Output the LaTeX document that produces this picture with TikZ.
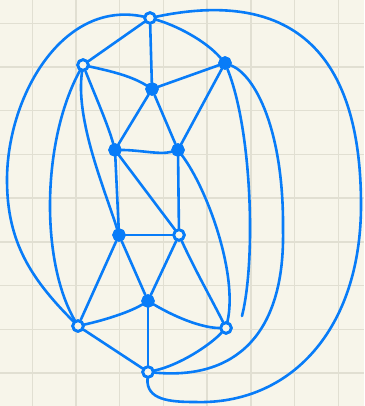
\documentclass[tikz,border=0pt]{standalone}
\begin{document}
\begin{tikzpicture}[x=1pt,y=-1pt,
  edge/.style={draw=inkblue,line width=2.6pt,line cap=round,line join=round},
  vhollow/.style={circle,draw=inkblue,line width=2.8pt,inner sep=0pt,minimum size=10.5pt,fill=paper},
  vfull/.style={circle,draw=inkblue,line width=2.8pt,inner sep=0pt,minimum size=10.5pt,fill=inkblue},
  gridline/.style={draw=gridgray,line width=1.4pt}]
\definecolor{inkblue}{RGB}{8,124,248}
\definecolor{paper}{RGB}{247,245,234}
\definecolor{gridgray}{RGB}{225,223,210}
% background and grid
\fill[paper] (0,0) rectangle (364,406);
\useasboundingbox (0,0) rectangle (364,406);
\foreach \k in {0,...,7} {\draw[gridline] ({32.3+43.7*\k},0) -- ({32.3+43.7*\k},406);}
\foreach \k in {0,...,8} {\draw[gridline] (0,{23.3+43.7*\k}) -- (364,{23.3+43.7*\k});}
% vertices
\node[vhollow] (T)   at (150,18) {};
\node[vhollow] (UL)  at (83,65) {};
\node[vfull]   (C1)  at (152,89) {};
\node[vfull]   (UR)  at (225,63) {};
\node[vfull]   (ML)  at (115,150) {};
\node[vfull]   (MR)  at (178,150) {};
\node[vfull]   (LL)  at (119,235) {};
\node[vhollow] (LR)  at (179,235) {};
\node[vfull]   (C2)  at (148,301) {};
\node[vhollow] (BL)  at (78,326) {};
\node[vhollow] (BR)  at (226,328) {};
\node[vhollow] (B)   at (148,372) {};
\coordinate (W1) at (7,180);
\coordinate (R1) at (361,205);
\coordinate (R2) at (195,402);
\coordinate (Q1) at (283,230);
\coordinate (F)  at (242,316);
% edges
\path[edge] (T) -- (UL);
\path[edge] (T) -- (C1);
\path[edge] (T) .. controls (175,25) and (205,40) .. (UR);
\path[edge] (T) to[out=168,in=90] (W1) to[out=-90,in=135] (BL);
\path[edge] (T) .. controls (260,-5) and (361,20) .. (R1)
   .. controls (361,330) and (290,405) .. (R2)
   .. controls (170,402) and (146,400) .. (B);
\path[edge] (UL) .. controls (105,70) and (130,75) .. (C1);
\path[edge] (UL) .. controls (97,100) and (108,125) .. (ML);
\path[edge] (UL) .. controls (75,120) and (105,190) .. (LL);
\path[edge] (UL) .. controls (42,140) and (40,260) .. (BL);
\path[edge] (C1) -- (UR);
\path[edge] (C1) -- (ML);
\path[edge] (C1) -- (MR);
\path[edge] (UR) -- (MR);
\path[edge] (UR) .. controls (252,130) and (256,260) .. (F);
\path[edge] (UR) .. controls (255,75) and (284,130) .. (Q1)
   .. controls (285,335) and (235,380) .. (B);
\path[edge] (ML) .. controls (140,150) and (160,155) .. (MR);
\path[edge] (ML) -- (LL);
\path[edge] (ML) -- (LR);
\path[edge] (MR) -- (LR);
\path[edge] (MR) .. controls (208,190) and (238,275) .. (BR);
\path[edge] (LL) -- (LR);
\path[edge] (LL) -- (C2);
\path[edge] (LL) -- (BL);
\path[edge] (LR) -- (C2);
\path[edge] (LR) .. controls (195,270) and (212,300) .. (BR);
\path[edge] (C2) .. controls (130,312) and (105,320) .. (BL);
\path[edge] (C2) .. controls (180,320) and (205,328) .. (BR);
\path[edge] (C2) -- (B);
\path[edge] (BL) -- (B);
\path[edge] (B) .. controls (180,365) and (210,345) .. (BR);
% redraw vertices on top
\node[vhollow] at (T) {};
\node[vhollow] at (UL) {};
\node[vfull]   at (C1) {};
\node[vfull]   at (UR) {};
\node[vfull]   at (ML) {};
\node[vfull]   at (MR) {};
\node[vfull]   at (LL) {};
\node[vhollow] at (LR) {};
\node[vfull]   at (C2) {};
\node[vhollow] at (BL) {};
\node[vhollow] at (BR) {};
\node[vhollow] at (B) {};
\end{tikzpicture}
\end{document}
